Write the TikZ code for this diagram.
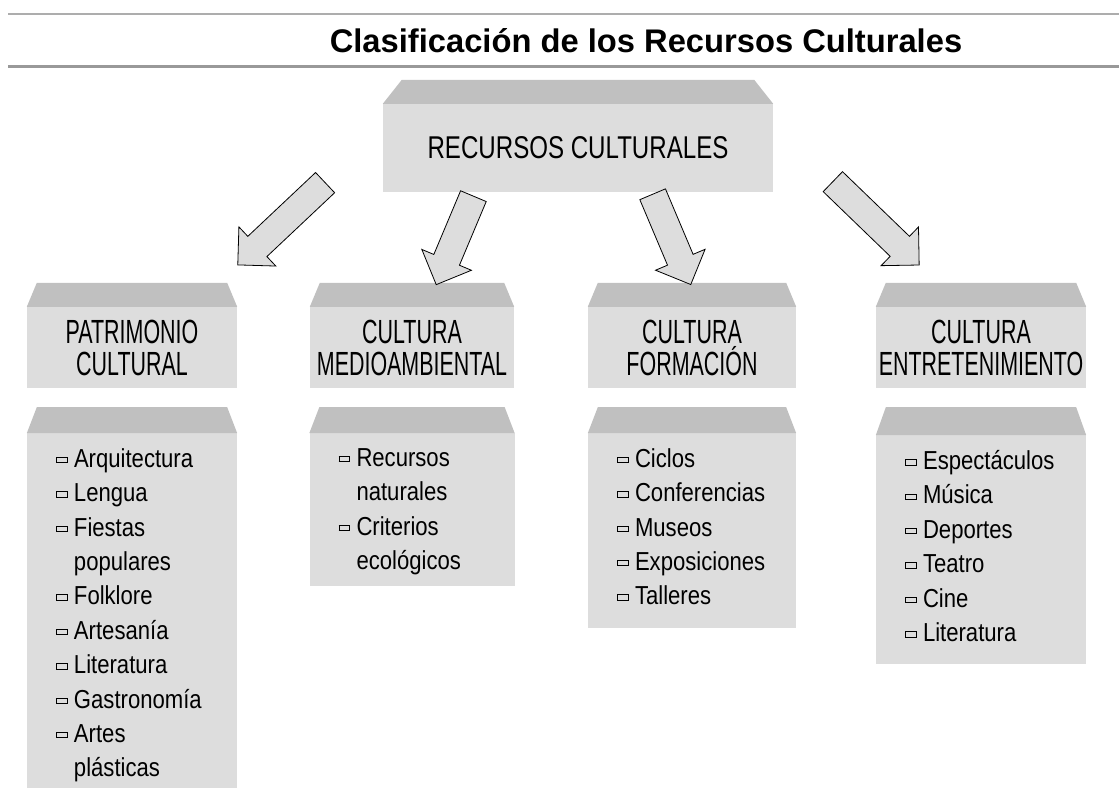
\documentclass[tikz,border=0pt]{standalone}
\usepackage{fontspec}
\setmainfont{Liberation Sans}
\newfontfamily\headfont[FakeStretch=0.64]{Liberation Sans}
\newfontfamily\topfont[FakeStretch=0.765]{Liberation Sans}
\newfontfamily\listfont[FakeStretch=0.85]{Liberation Sans}
\usetikzlibrary{positioning,calc,shapes.arrows}

\definecolor{boxlight}{HTML}{DDDDDD}
\definecolor{boxdark}{HTML}{C0C0C0}
\definecolor{rulegray}{HTML}{999999}

% small hollow bullet and indent for wrapped lines
\newcommand{\bul}{\makebox[18pt][l]{\raisebox{5pt}{\fboxsep=0pt\fboxrule=0.9pt\fbox{\hspace{10pt}\rule{0pt}{4.5pt}}}}}
\newcommand{\cont}{\hspace*{18pt}}

\tikzset{
  box/.style={fill=boxlight, inner sep=0pt},
  head/.style={box, minimum height=81pt, align=center, font=\headfont\fontsize{33.5}{32}\selectfont,
    execute at begin node=\rule{0pt}{29pt}},
  listbox/.style={box, anchor=north},
  items/.style={align=left, inner sep=0pt, font=\listfont\fontsize{26}{34.4}\selectfont},
  bigarrow/.style={single arrow, draw=black, fill=boxlight, line width=0.8pt, inner sep=0pt,
    text height=27pt, text depth=0pt, single arrow head extend=13pt}
}

\begin{document}
\begin{tikzpicture}[x=1pt, y=-1pt]
    \useasboundingbox (0,0) rectangle (1119,791);

    % Titulo
    \draw[rulegray!80, line width=2.5pt] (8,14) -- (1119,14);
    \node[font=\bfseries\fontsize{32.7}{36}\selectfont, anchor=base] (title) at (646,53) {Clasificación de los Recursos Culturales};
    \draw[rulegray, line width=3.5pt] (8,66.5) -- (1119,66.5);

    % Recurso principal
    \node[box, minimum width=390pt, minimum height=88pt, font=\topfont\fontsize{31.5}{32}\selectfont] (rc) at (578,148) {RECURSOS CULTURALES};

    % Categorias
    \node[head, minimum width=210pt] (patr) at (132,347.5) {PATRIMONIO\\CULTURAL};
    \node[head, minimum width=204pt] (medio) at (412,347.5) {CULTURA\\MEDIOAMBIENTAL};
    \node[head, minimum width=208pt] (form) at (692,347.5) {CULTURA\\FORMACIÓN};
    \node[head, minimum width=210pt] (entre) at (981,347.5) {CULTURA\\ENTRETENIMIENTO};

    % Listas
    \node[listbox, minimum width=210pt, minimum height=355pt, below=45pt of patr.south] (patrlist) {};
    \node[listbox, minimum width=205pt, minimum height=153pt, below=45pt of medio.south] (mediolist) {};
    \node[listbox, minimum width=208pt, minimum height=195pt, below=45pt of form.south] (formlist) {};
    \node[listbox, minimum width=210pt, minimum height=229pt, below=47pt of entre.south] (entrelist) {};

    \node[items, below right=15pt and 29pt of patrlist.north west] (patritems) {\bul Arquitectura\\ \bul Lengua\\ \bul Fiestas\\ \cont populares\\ \bul Folklore\\ \bul Artesanía\\ \bul Literatura\\ \bul Gastronomía\\ \bul Artes\\ \cont plásticas};
    \node[items, below right=15pt and 29pt of mediolist.north west] (medioitems) {\bul Recursos\\ \cont naturales\\ \bul Criterios\\ \cont ecológicos};
    \node[items, below right=15pt and 29pt of formlist.north west] (formitems) {\bul Ciclos\\ \bul Conferencias\\ \bul Museos\\ \bul Exposiciones\\ \bul Talleres};
    \node[items, below right=15pt and 29pt of entrelist.north west] (entreitems) {\bul Espectáculos\\ \bul Música\\ \bul Deportes\\ \bul Teatro\\ \bul Cine\\ \bul Literatura};

    % Tapas
    \foreach \n/\s/\h in {rc/19/24, patr/10/24, medio/10/24, form/10/24, entre/10/24,
        patrlist/10/26, mediolist/10/26, formlist/10/26, entrelist/10/28}
      \fill[boxdark] (\n.north west) -- ++(\s,-\h) -- ($(\n.north east)+(-\s,-\h)$) -- (\n.north east) -- cycle;

    % Flechas
    \coordinate (t1) at (330,178); \coordinate (h1) at (243,260);
    \coordinate (t2) at (476,190); \coordinate (h2) at (439,278);
    \coordinate (t3) at (650,188); \coordinate (h3) at (688,278);
    \coordinate (t4) at (828,177); \coordinate (h4) at (914,260);
    \node[bigarrow, minimum height=120pt, rotate=-136.7] (arr1) at ($(t1)!.5!(h1)$) {};
    \node[bigarrow, minimum height=96pt, rotate=-112.8] (arr2) at ($(t2)!.5!(h2)$) {};
    \node[bigarrow, minimum height=98pt, rotate=-67.1] (arr3) at ($(t3)!.5!(h3)$) {};
    \node[bigarrow, minimum height=120pt, rotate=-44] (arr4) at ($(t4)!.5!(h4)$) {};
\end{tikzpicture}
\end{document}
